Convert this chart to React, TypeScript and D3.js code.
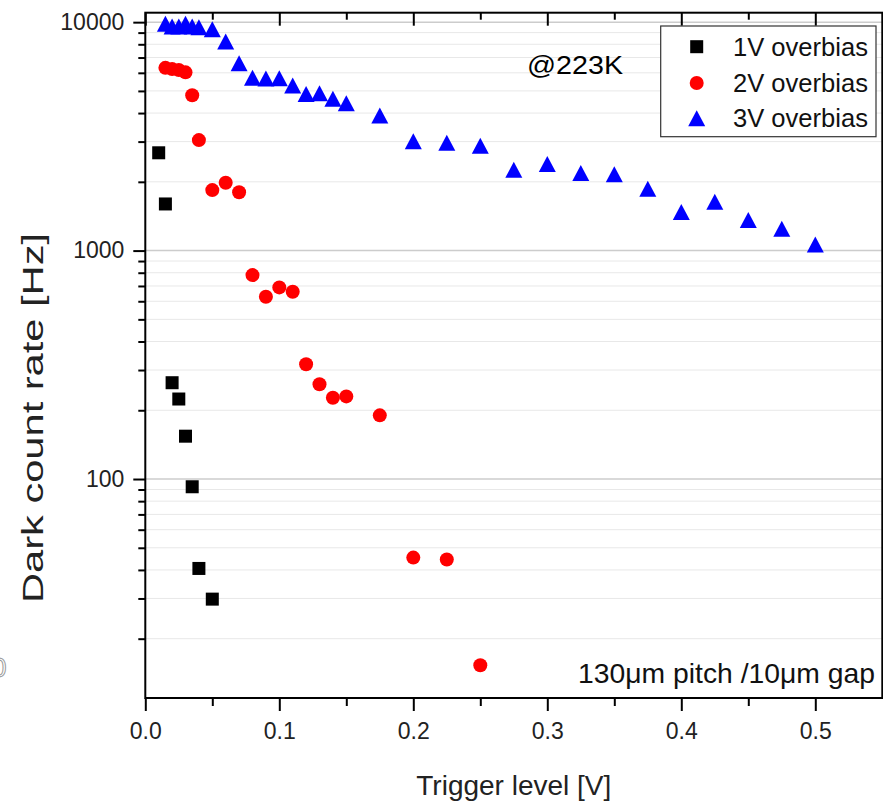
import React, { useEffect, useRef } from "react";
import * as d3 from "d3";

// trigger level [V] and dark count rate [Hz] per overbias
const trig1 = [0.01, 0.015, 0.02, 0.025, 0.03, 0.035, 0.04, 0.05];
const dcr1 = [2680, 1600, 264, 224, 154, 92.5, 40.6, 29.8];

const trig2 = [0.015, 0.02, 0.025, 0.03, 0.035, 0.04, 0.05, 0.06, 0.07, 0.08, 0.09, 0.1, 0.11, 0.12, 0.13, 0.14, 0.15, 0.175, 0.2, 0.225, 0.25];
const dcr2 = [6310, 6230, 6170, 6030, 4790, 3045, 1840, 1980, 1800, 781, 628, 690, 660, 318, 260, 227, 230, 190, 45.3, 44.4, 15.3];

const trig3 = [0.015, 0.02, 0.025, 0.03, 0.035, 0.04, 0.05, 0.06, 0.07, 0.08, 0.09, 0.1, 0.11, 0.12, 0.13, 0.14, 0.15, 0.175, 0.2, 0.225, 0.25, 0.275, 0.3, 0.325, 0.35, 0.375, 0.4, 0.425, 0.45, 0.475, 0.5];
const dcr3 = [9850, 9560, 9560, 9850, 9560, 9500, 9300, 8230, 6615, 5716, 5670, 5688, 5284, 4842, 4890, 4616, 4420, 3899, 3014, 2969, 2874, 2257, 2391, 2188, 2156, 1867, 1474, 1635, 1360, 1245, 1064];

const seriesNames = ["1V overbias", "2V overbias", "3V overbias"];
const xMajor = [0, 0.1, 0.2, 0.3, 0.4, 0.5];
const xMinor = [0.05, 0.15, 0.25, 0.35, 0.45];
const yMajor = [100, 1000, 10000];

const W = 883;
const H = 802;
const FONT = "'Liberation Sans', Arial, sans-serif";

function App() {
  const ref = useRef<SVGSVGElement>(null);

  useEffect(() => {
    const svg = d3.select(ref.current);
    svg.selectAll("*").remove();

    const left = 145.3, right = 882.3, top = 12.7, bottom = 698;
    const x = d3.scaleLinear().domain([0, 0.55]).range([left, right]);
    const y = d3.scaleLog().domain([11, 11000]).range([bottom, top]);

    const yMinor: number[] = [];
    [10, 100, 1000].forEach((d) => {
      for (let k = 2; k <= 9; k++) if (d * k >= 11) yMinor.push(d * k);
    });

    // grid
    const grid = svg.append("g");
    grid.selectAll(".gmin").data(yMinor).enter().append("line")
      .attr("x1", left).attr("x2", right)
      .attr("y1", (d) => y(d)).attr("y2", (d) => y(d))
      .attr("stroke", "#e8e8e8").attr("stroke-width", 1);
    grid.selectAll(".gmaj").data(yMajor).enter().append("line")
      .attr("x1", left).attr("x2", right)
      .attr("y1", (d) => y(d)).attr("y2", (d) => y(d))
      .attr("stroke", "#cccccc").attr("stroke-width", 1.5);

    const styleAxis = (g: any) => {
      g.select(".domain").remove();
      g.selectAll("line").attr("stroke", "#000").attr("stroke-width", 2);
      g.selectAll("text").attr("font-family", FONT).attr("font-size", 23).attr("fill", "#222");
    };

    // left axis
    svg.append("g").attr("transform", `translate(${left},0)`)
      .call(d3.axisLeft(y).tickValues(yMajor).tickSize(12).tickPadding(9).tickFormat((d: any) => String(d)))
      .call(styleAxis);
    svg.append("g").attr("transform", `translate(${left},0)`)
      .call(d3.axisLeft(y).tickValues(yMinor).tickSize(7).tickFormat(() => ""))
      .call(styleAxis);
    // right axis (inward ticks)
    svg.append("g").attr("transform", `translate(${right},0)`)
      .call(d3.axisLeft(y).tickValues(yMajor).tickSize(-12).tickFormat(() => ""))
      .call(styleAxis);
    svg.append("g").attr("transform", `translate(${right},0)`)
      .call(d3.axisLeft(y).tickValues(yMinor).tickSize(-7).tickFormat(() => ""))
      .call(styleAxis);

    // bottom axis
    svg.append("g").attr("transform", `translate(0,${bottom})`)
      .call(d3.axisBottom(x).tickValues(xMajor).tickSize(13).tickPadding(12).tickFormat(d3.format(".1f")))
      .call(styleAxis);
    svg.append("g").attr("transform", `translate(0,${bottom})`)
      .call(d3.axisBottom(x).tickValues(xMinor).tickSize(8).tickFormat(() => ""))
      .call(styleAxis);
    // top axis (inward ticks)
    svg.append("g").attr("transform", `translate(0,${top})`)
      .call(d3.axisTop(x).tickValues(xMajor).tickSize(-13).tickFormat(() => ""))
      .call(styleAxis);
    svg.append("g").attr("transform", `translate(0,${top})`)
      .call(d3.axisTop(x).tickValues(xMinor).tickSize(-7).tickFormat(() => ""))
      .call(styleAxis);

    // frame
    svg.append("rect")
      .attr("x", left).attr("y", top)
      .attr("width", right - left).attr("height", bottom - top)
      .attr("fill", "none").attr("stroke", "#000").attr("stroke-width", 2);

    const tri = "M0,-8 L8.5,8 L-8.5,8 Z";

    // 1V squares
    svg.append("g").selectAll("rect").data(trig1.map((t, i) => [t, dcr1[i]])).enter()
      .append("rect")
      .attr("x", (d) => x(d[0]) - 6.5).attr("y", (d) => y(d[1]) - 6.5)
      .attr("width", 13).attr("height", 13).attr("fill", "#000");
    // 2V circles
    svg.append("g").selectAll("circle").data(trig2.map((t, i) => [t, dcr2[i]])).enter()
      .append("circle")
      .attr("cx", (d) => x(d[0])).attr("cy", (d) => y(d[1]))
      .attr("r", 7).attr("fill", "#ff0000");
    // 3V triangles
    svg.append("g").selectAll("path").data(trig3.map((t, i) => [t, dcr3[i]])).enter()
      .append("path")
      .attr("transform", (d) => `translate(${x(d[0])},${y(d[1])})`)
      .attr("d", tri).attr("fill", "#0000ff");

    // legend
    const lg = svg.append("g");
    lg.append("rect").attr("x", 660.7).attr("y", 26).attr("width", 215.3).attr("height", 110.7)
      .attr("fill", "#fff").attr("stroke", "#333").attr("stroke-width", 1.2);
    const rows = [46.7, 83, 118.3];
    lg.append("rect").attr("x", 696.7 - 6.5).attr("y", rows[0] - 6.5).attr("width", 13).attr("height", 13).attr("fill", "#000");
    lg.append("circle").attr("cx", 696.7).attr("cy", rows[1]).attr("r", 7).attr("fill", "#ff0000");
    lg.append("path").attr("transform", `translate(696.7,${rows[2]})`).attr("d", tri).attr("fill", "#0000ff");
    lg.selectAll("text").data(seriesNames).enter().append("text")
      .attr("x", 733).attr("y", (d, i) => rows[i] + 9)
      .attr("font-family", FONT).attr("font-size", 25).attr("fill", "#111")
      .attr("textLength", 135).attr("lengthAdjust", "spacingAndGlyphs")
      .text((d) => d);

    // annotations
    svg.append("text").attr("x", 527).attr("y", 74)
      .attr("font-family", FONT).attr("font-size", 26).attr("fill", "#000")
      .attr("textLength", 96).attr("lengthAdjust", "spacingAndGlyphs")
      .text("@223K");
    svg.append("text").attr("x", 578).attr("y", 683)
      .attr("font-family", FONT).attr("font-size", 28).attr("fill", "#111")
      .attr("textLength", 297).attr("lengthAdjust", "spacingAndGlyphs")
      .text("130\u03bcm pitch /10\u03bcm gap");

    // axis titles
    svg.append("text").attr("x", (left + right) / 2).attr("y", 795)
      .attr("text-anchor", "middle")
      .attr("font-family", FONT).attr("font-size", 28).attr("fill", "#222")
      .text("Trigger level [V]");
    svg.append("text")
      .attr("transform", "translate(43,418) rotate(-90)")
      .attr("text-anchor", "middle")
      .attr("font-family", FONT).attr("font-size", 30).attr("fill", "#222")
      .attr("textLength", 370).attr("lengthAdjust", "spacingAndGlyphs")
      .text("Dark count rate [Hz]");

    // cropped remnant at left edge
    svg.append("text").attr("x", -9).attr("y", 677)
      .attr("font-family", FONT).attr("font-size", 28)
      .attr("fill", "#fff").attr("stroke", "#999").attr("stroke-width", 1)
      .text("0");
  }, []);

  return (
    <svg ref={ref} width={W} height={H}
      style={{ position: "absolute", left: 0, top: 0, background: "#fff" }} />
  );
}

export default App;
